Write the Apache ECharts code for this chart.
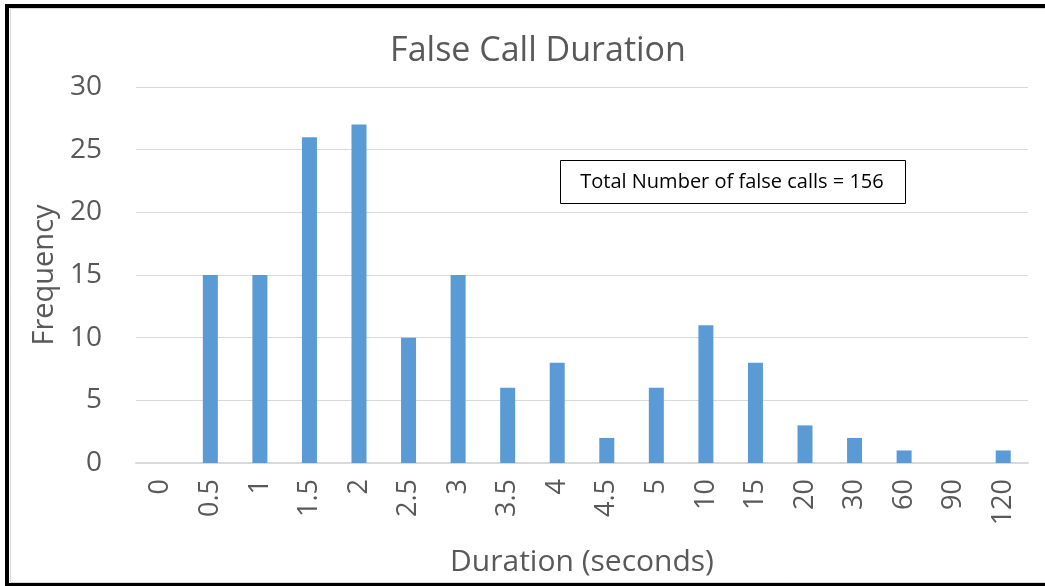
<!DOCTYPE html>
<html>
<head>
<meta charset="utf-8">
<script src="https://cdn.jsdelivr.net/npm/echarts@6/dist/echarts.min.js"></script>
<style>
  html, body { margin: 0; padding: 0; background: #fff; }
  #chart { width: 1045px; height: 586px; }
</style>
</head>
<body>
<div id="chart"></div>
<script>
// duration bins (seconds) and how many false calls fell in each
const durations = ['0', '0.5', '1', '1.5', '2', '2.5', '3', '3.5', '4', '4.5', '5', '10', '15', '20', '30', '60', '90', '120']
const frequency = [0, 15, 15, 26, 27, 10, 15, 6, 8, 2, 6, 11, 8, 3, 2, 1, 0, 1]
const totalCalls = 156

const textColor = '#595959'
const fontFamily = '"Open Sans", sans-serif'

const chart = echarts.init(document.getElementById('chart'))

chart.setOption({
  animation: false,
  title: {
    text: 'False Call Duration',
    left: 533,
    top: 29,
    textAlign: 'center',
    textStyle: {
      color: textColor,
      fontFamily,
      fontWeight: 'normal',
      fontSize: 34
    }
  },
  grid: {
    left: 136,
    right: 17,
    top: 87,
    bottom: 123
  },
  xAxis: {
    type: 'category',
    data: durations,
    name: 'Duration (seconds)',
    nameLocation: 'middle',
    nameGap: 84,
    nameTextStyle: { color: textColor, fontFamily, fontSize: 30 },
    axisLine: { lineStyle: { color: '#d9d9d9', width: 2 } },
    axisTick: { show: false },
    axisLabel: {
      rotate: 90,
      margin: 16,
      color: textColor,
      fontFamily,
      fontSize: 27
    }
  },
  yAxis: {
    type: 'value',
    min: 0,
    max: 30,
    interval: 5,
    name: 'Frequency',
    nameLocation: 'middle',
    nameGap: 77,
    nameTextStyle: { color: textColor, fontFamily, fontSize: 29 },
    axisLine: { show: false },
    axisTick: { show: false },
    axisLabel: {
      margin: 34,
      color: textColor,
      fontFamily,
      fontSize: 28
    },
    splitLine: { lineStyle: { color: '#d9d9d9', width: 1 } }
  },
  series: [{
    type: 'bar',
    data: frequency,
    barWidth: 15,
    itemStyle: { color: '#5b9bd5' }
  }],
  graphic: [
    {
      // thin grey chart-area edge just inside the frame
      type: 'polyline',
      shape: { points: [[1045, 8.5], [10.5, 8.5], [10.5, 582.5], [1045, 582.5]] },
      style: { fill: 'none', stroke: '#d9d9d9', lineWidth: 1 },
      silent: true
    },
    {
      // outer frame: top, left and bottom only (right edge is cut off)
      type: 'polyline',
      shape: { points: [[1045, 6], [7, 6], [7, 585], [1045, 585]] },
      style: { fill: 'none', stroke: '#000', lineWidth: 4 },
      silent: true
    },
    {
      type: 'rect',
      shape: { x: 560.5, y: 160.5, width: 345, height: 43 },
      style: { fill: '#fff', stroke: '#000', lineWidth: 1 }
    },
    {
      type: 'text',
      x: 732,
      y: 182,
      style: {
        text: 'Total Number of false calls = ' + totalCalls,
        fill: '#000',
        font: '20px "Open Sans", sans-serif',
        align: 'center',
        verticalAlign: 'middle'
      }
    }
  ]
})
</script>
</body>
</html>
